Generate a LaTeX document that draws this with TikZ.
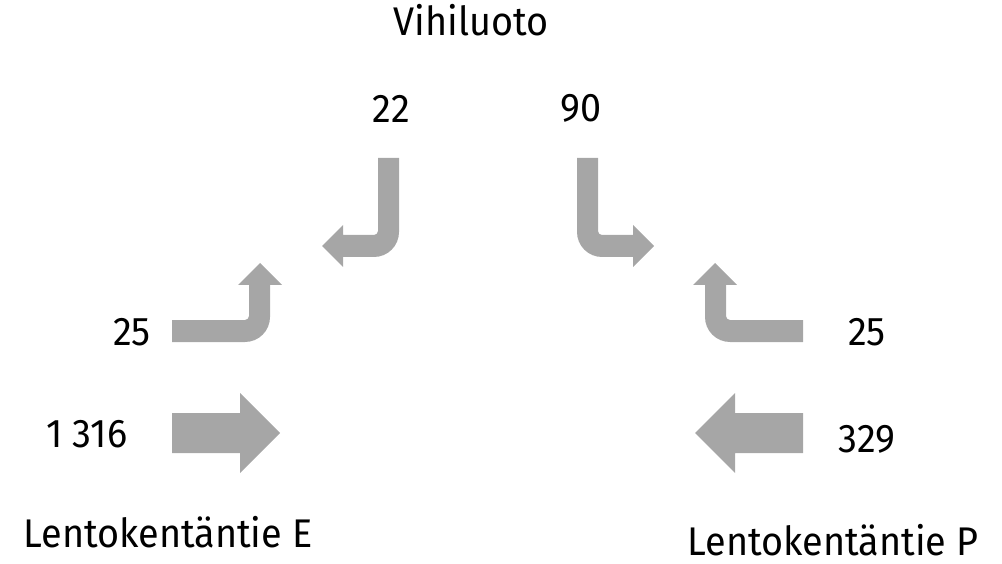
\documentclass[tikz,border=0pt]{standalone}
\usepackage{fontspec}
\setmainfont{Fira Sans}[FakeStretch=0.945]
\definecolor{flowgray}{RGB}{166,166,166}
\tikzset{
  flow/.style={fill=flowgray, draw=none},
  lbl/.style={anchor=base, inner sep=0pt, font=\fontsize{40}{48}\selectfont}
}
\begin{document}
\begin{tikzpicture}[x=1pt, y=-1pt]
\useasboundingbox (0,0) rectangle (1002,564);

% approach names
\node[lbl] (north) at (471,36) {Vihiluoto};
\node[lbl] (west)  at (168,547) {Lentokentäntie E};
\node[lbl] (east)  at (833,555) {Lentokentäntie P};

% volumes
\node[lbl] (vN1) at (391,123) {22};
\node[lbl] (vN2) at (581,122) {90};
\node[lbl] (vW1) at (132,345) {25};
\node[lbl] (vW2) at (87,447) {1 316};
\node[lbl] (vE1) at (867,345) {25};
\node[lbl] (vE2) at (867,452) {329};

% through movements
\fill[flow] (172,413) -- (240,413) -- (240,393) -- (280,433) -- (240,473)
  -- (240,453) -- (172,453) -- cycle;
\fill[flow] (803,413) -- (735,413) -- (735,393) -- (695,433) -- (735,473)
  -- (735,453) -- (803,453) -- cycle;

% left turn from the west
\fill[flow] (172,320) -- (245,320) .. controls (247.2,320) and (249,318.2) .. (249,316)
  -- (249,285) -- (238,285) -- (260,263) -- (282,285) -- (270,285) -- (270,317)
  .. controls (270,330.8) and (258.8,342) .. (245,342) -- (172,342) -- cycle;

% right turn from the east
\fill[flow] (803,320) -- (730,320) .. controls (727.8,320) and (726,318.2) .. (726,316)
  -- (726,285) -- (737,285) -- (715,263) -- (693,285) -- (705,285) -- (705,317)
  .. controls (705,330.8) and (716.2,342) .. (730,342) -- (803,342) -- cycle;

% turns from the north
\fill[flow] (378,158) -- (399,158) -- (399,232) .. controls (399,245.8) and (387.8,257) .. (374,257)
  -- (343,257) -- (343,267) -- (322,246) -- (343,225) -- (343,235) -- (374,235)
  .. controls (376.2,235) and (378,233.2) .. (378,231) -- cycle;
\fill[flow] (598,158) -- (577,158) -- (577,232) .. controls (577,245.8) and (588.2,257) .. (602,257)
  -- (633,257) -- (633,267) -- (654,246) -- (633,225) -- (633,235) -- (602,235)
  .. controls (599.8,235) and (598,233.2) .. (598,231) -- cycle;
\end{tikzpicture}
\end{document}
